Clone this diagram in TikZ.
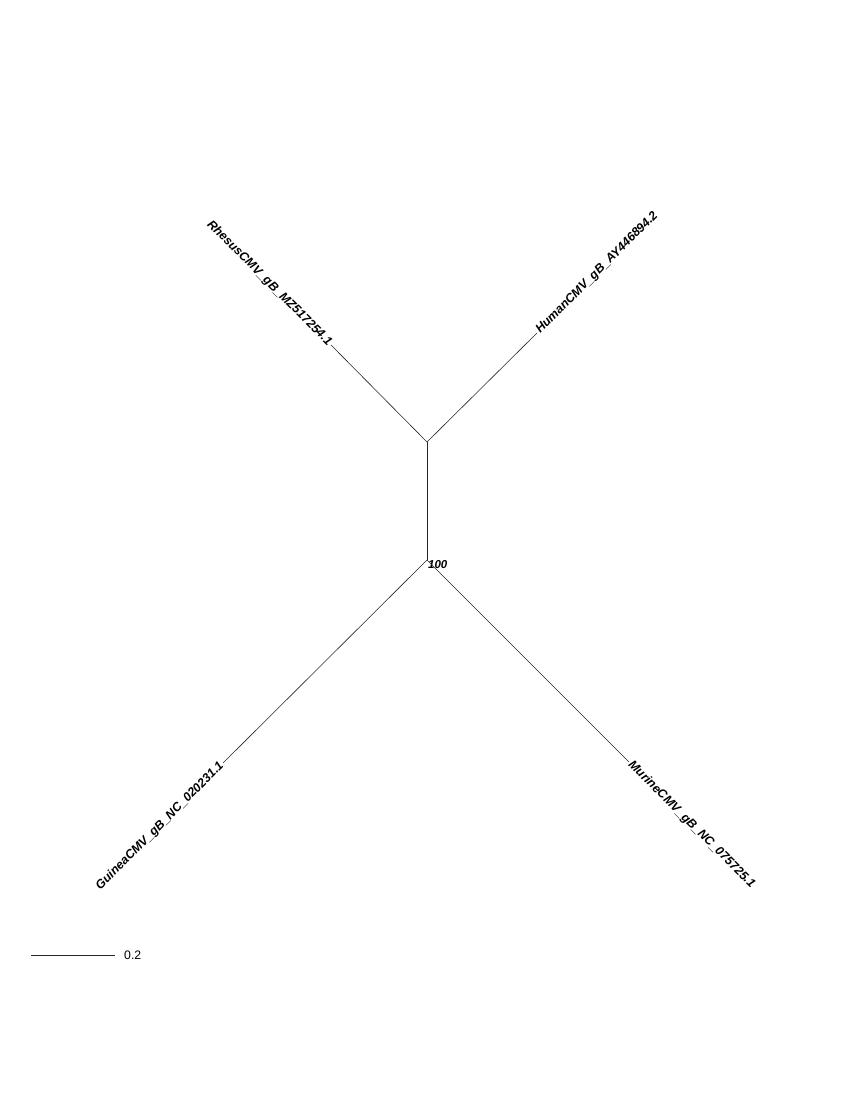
\documentclass[tikz,border=0pt]{standalone}
\usepackage{fontspec}
\setmainfont{Liberation Sans}
\usepackage{tikz}

\begin{document}
\begin{tikzpicture}[
    x=1pt, y=-1pt,
    branch/.style={line width=0.6pt, black!85},
    taxon/.style={font=\fontsize{12.3}{14}\selectfont\bfseries\itshape, inner sep=1.5pt},
    support/.style={font=\fontsize{11.5}{13}\selectfont\bfseries\itshape, inner sep=1pt},
    scalelabel/.style={font=\fontsize{12.3}{14}\selectfont, inner sep=0pt}
]
    \useasboundingbox (0,0) rectangle (850,1100);

    \coordinate (upper) at (427,442);
    \coordinate (lower) at (427,560);
    \coordinate (rhesus) at (331,345);
    \coordinate (human) at (537,333);
    \coordinate (guinea) at (223,763);
    \coordinate (murine) at (629,762);

    \node[taxon, rotate=-45, anchor=east] (rhesuslab) at (rhesus) {RhesusCMV\_gB\_MZ517254.1};
    \node[taxon, rotate=45, anchor=west] (humanlab) at (human) {HumanCMV\_gB\_AY446894.2};
    \node[taxon, rotate=45, anchor=east] (guinealab) at (guinea) {GuineaCMV\_gB\_NC\_020231.1};
    \node[taxon, rotate=-45, anchor=west] (murinelab) at (murine) {MurineCMV\_gB\_NC\_075725.1};
    \node[support, anchor=west] (boot) at (427,565) {100};

    \draw[branch] (upper) -- (lower);
    \draw[branch] (upper) -- (rhesus);
    \draw[branch] (upper) -- (human);
    \draw[branch] (lower) -- (guinea);
    \draw[branch] (lower) -- (murine);

    % scale bar
    \coordinate (barleft) at (31,955);
    \coordinate (barright) at (115,955);
    \draw[branch] (barleft) -- (barright);
    \node[scalelabel, anchor=west] (barlab) at (124,955) {0.2};
\end{tikzpicture}
\end{document}
